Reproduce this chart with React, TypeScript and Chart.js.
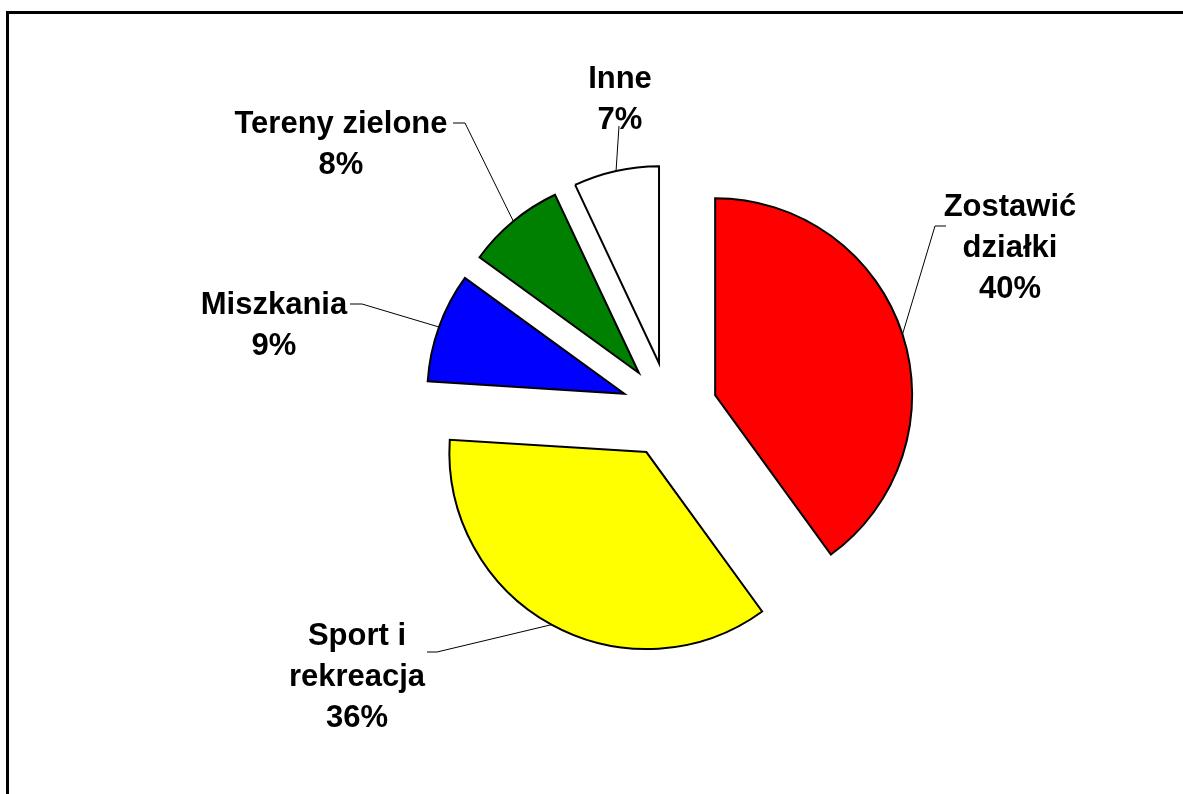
import { useEffect, useRef } from "react";
import { Chart, registerables } from "chart.js";

Chart.register(...registerables);

// ---- data ----
const categories = ["Zostawić działki", "Sport i rekreacja", "Miszkania", "Tereny zielone", "Inne"];
const shares = [40, 36, 9, 8, 7];
const labelLines = [["Zostawić", "działki"], ["Sport i", "rekreacja"], ["Miszkania"], ["Tereny zielone"], ["Inne"]];

// ---- styling / layout ----
const sliceColors = ["#FF0000", "#FFFF00", "#0000FF", "#008000", "#FFFFFF"];
const EXPLODE = 48;
const RADIUS = 197;
const FONT = 'bold 31px "Liberation Sans", Arial, sans-serif';
const LINE_H = 41;
type LabelPos = { cx: number; y: number; elbow: [number, number] | null; end: [number, number] };
const labelLayout: LabelPos[] = [
  { cx: 1010, y: 216, elbow: [935, 226], end: [946, 226] },
  { cx: 357, y: 645, elbow: [437, 652], end: [427, 652] },
  { cx: 274, y: 314, elbow: [362, 304], end: [350, 304] },
  { cx: 341, y: 133, elbow: [465, 123], end: [453, 123] },
  { cx: 620, y: 88, elbow: null, end: [619, 126] },
];

const explodePlugin = {
  id: "explodeSlices",
  afterDatasetsUpdate(chart: any) {
    const meta = chart.getDatasetMeta(0);
    meta.data.forEach((arc: any) => {
      const mid = (arc.startAngle + arc.endAngle) / 2;
      arc.x = arc.x + Math.cos(mid) * EXPLODE;
      arc.y = arc.y + Math.sin(mid) * EXPLODE;
    });
  },
};

const labelPlugin = {
  id: "sliceLabels",
  afterDatasetsDraw(chart: any) {
    const ctx = chart.ctx as CanvasRenderingContext2D;
    const meta = chart.getDatasetMeta(0);
    ctx.save();
    meta.data.forEach((arc: any, i: number) => {
      const mid = (arc.startAngle + arc.endAngle) / 2;
      const px = arc.x + Math.cos(mid) * arc.outerRadius;
      const py = arc.y + Math.sin(mid) * arc.outerRadius;
      const lay = labelLayout[i];
      ctx.strokeStyle = "#000";
      ctx.lineWidth = 1;
      ctx.beginPath();
      ctx.moveTo(px, py);
      if (lay.elbow) ctx.lineTo(lay.elbow[0], lay.elbow[1]);
      ctx.lineTo(lay.end[0], lay.end[1]);
      ctx.stroke();
      const lines = [...labelLines[i], `${shares[i]}%`];
      ctx.fillStyle = "#000";
      ctx.font = FONT;
      ctx.textAlign = "center";
      ctx.textBaseline = "alphabetic";
      lines.forEach((t, k) => ctx.fillText(t, lay.cx, lay.y + k * LINE_H));
    });
    ctx.restore();
  },
};

export default function App() {
  const ref = useRef<HTMLCanvasElement | null>(null);
  useEffect(() => {
    if (!ref.current) return;
    const chart = new Chart(ref.current, {
      type: "pie",
      data: {
        labels: categories,
        datasets: [
          {
            data: shares,
            backgroundColor: sliceColors,
            borderColor: "#000000",
            borderWidth: 2,
            borderJoinStyle: "miter",
            hoverOffset: 0,
          } as any,
        ],
      },
      options: {
        responsive: false,
        animation: false,
        radius: RADIUS,
        layout: { padding: { left: 156, right: 0, top: 26, bottom: 0 } },
        plugins: { legend: { display: false }, tooltip: { enabled: false } },
        events: [],
      } as any,
      plugins: [explodePlugin, labelPlugin],
    });
    return () => chart.destroy();
  }, []);
  return (
    <div style={{ position: "fixed", left: 0, top: 0, width: 1183, height: 794, overflow: "hidden", background: "#fff" }}>
      <div
        style={{
          position: "absolute",
          left: 6,
          top: 11,
          width: 1400,
          height: 1000,
          border: "3px solid #000",
        }}
      />
      <canvas ref={ref} width={1183} height={794} style={{ position: "absolute", left: 0, top: 0 }} />
    </div>
  );
}
